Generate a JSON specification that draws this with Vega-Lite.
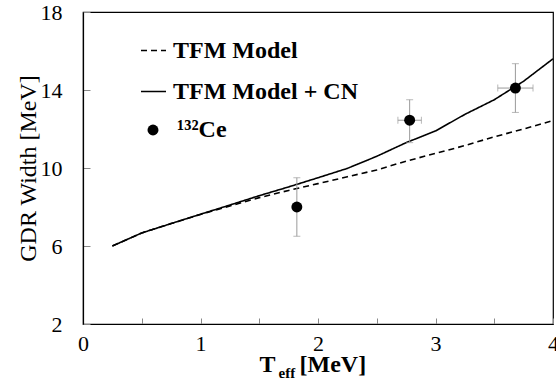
{
  "$schema": "https://vega.github.io/schema/vega-lite/v6.json",
  "width": 470,
  "height": 312,
  "autosize": "none",
  "padding": {"left": 83, "top": 12, "right": 3, "bottom": 62},
  "background": "white",
  "config": {
    "font": "Liberation Serif",
    "view": {"stroke": "black", "strokeWidth": 1.2},
    "axis": {"grid": false, "domainColor": "black", "domainWidth": 1.2, "tickColor": "#888888", "labelColor": "black", "titleColor": "black", "labelFont": "Liberation Serif", "titleFont": "Liberation Serif"},
    "legend": {"labelFont": "Liberation Serif", "labelColor": "black"}
  },
  "datasets": {
    "models": [
      {"T": 0.25, "W": 6.0, "model": "TFM Model"},
      {"T": 0.5, "W": 6.67, "model": "TFM Model"},
      {"T": 0.75, "W": 7.15, "model": "TFM Model"},
      {"T": 1.0, "W": 7.62, "model": "TFM Model"},
      {"T": 1.25, "W": 8.05, "model": "TFM Model"},
      {"T": 1.5, "W": 8.48, "model": "TFM Model"},
      {"T": 1.75, "W": 8.85, "model": "TFM Model"},
      {"T": 2.0, "W": 9.2, "model": "TFM Model"},
      {"T": 2.25, "W": 9.55, "model": "TFM Model"},
      {"T": 2.5, "W": 9.9, "model": "TFM Model"},
      {"T": 2.75, "W": 10.35, "model": "TFM Model"},
      {"T": 3.0, "W": 10.75, "model": "TFM Model"},
      {"T": 3.25, "W": 11.15, "model": "TFM Model"},
      {"T": 3.5, "W": 11.6, "model": "TFM Model"},
      {"T": 3.75, "W": 12.0, "model": "TFM Model"},
      {"T": 4.0, "W": 12.43, "model": "TFM Model"},
      {"T": 0.25, "W": 6.0, "model": "TFM Model + CN"},
      {"T": 0.5, "W": 6.67, "model": "TFM Model + CN"},
      {"T": 0.75, "W": 7.15, "model": "TFM Model + CN"},
      {"T": 1.0, "W": 7.63, "model": "TFM Model + CN"},
      {"T": 1.25, "W": 8.1, "model": "TFM Model + CN"},
      {"T": 1.5, "W": 8.58, "model": "TFM Model + CN"},
      {"T": 1.75, "W": 9.03, "model": "TFM Model + CN"},
      {"T": 2.0, "W": 9.5, "model": "TFM Model + CN"},
      {"T": 2.25, "W": 9.98, "model": "TFM Model + CN"},
      {"T": 2.5, "W": 10.6, "model": "TFM Model + CN"},
      {"T": 2.75, "W": 11.3, "model": "TFM Model + CN"},
      {"T": 3.0, "W": 11.9, "model": "TFM Model + CN"},
      {"T": 3.25, "W": 12.75, "model": "TFM Model + CN"},
      {"T": 3.5, "W": 13.5, "model": "TFM Model + CN"},
      {"T": 3.75, "W": 14.45, "model": "TFM Model + CN"},
      {"T": 4.0, "W": 15.6, "model": "TFM Model + CN"}
    ],
    "ce": [
      {"T": 1.82, "W": 8.0, "Wlo": 6.5, "Whi": 9.5, "Tlo": null, "Thi": null, "label": "¹³²Ce"},
      {"T": 2.78, "W": 12.45, "Wlo": 11.3, "Whi": 13.5, "Tlo": 2.68, "Thi": 2.88, "label": "¹³²Ce"},
      {"T": 3.68, "W": 14.1, "Wlo": 12.85, "Whi": 15.35, "Tlo": 3.53, "Thi": 3.83, "label": "¹³²Ce"}
    ]
  },
  "resolve": {"axis": {"x": "independent"}},
  "layer": [
    {
      "data": {"name": "models"},
      "mark": {"type": "line", "color": "black", "strokeWidth": 1.6},
      "encoding": {
        "x": {
          "field": "T", "type": "quantitative",
          "scale": {"domain": [0, 4], "nice": false},
          "axis": {
            "values": [0, 0.5, 1, 1.5, 2, 2.5, 3, 3.5, 4],
            "labelExpr": "datum.value % 1 == 0 ? format(datum.value, 'd') : ''",
            "labelOverlap": false, "labelFlush": false,
            "tickSize": -6, "labelPadding": 15, "labelFontSize": 22,
            "title": "T\u00a0\u00a0\u00a0\u00a0[MeV]", "titleFontSize": 24, "titleFontWeight": "bold",
            "titleAlign": "left", "titleAnchor": "start", "titleX": 176, "titleY": 47, "titleBaseline": "alphabetic"
          }
        },
        "y": {
          "field": "W", "type": "quantitative", "title": "GDR Width [MeV]",
          "scale": {"domain": [2, 18], "nice": false},
          "axis": {
            "values": [2, 3, 4, 5, 6, 7, 8, 9, 10, 11, 12, 13, 14, 15, 16, 17, 18],
            "labelExpr": "(datum.value - 2) % 4 == 0 ? datum.label : ''",
            "labelOverlap": false, "labelFlush": false,
            "tickSize": -7, "labelPadding": 28, "labelFontSize": 22,
            "titleFontSize": 24, "titleFontWeight": "normal",
            "titleAngle": 270, "titleAlign": "center", "titleBaseline": "alphabetic", "titleX": -48, "titleY": 156
          }
        },
        "strokeDash": {
          "field": "model", "type": "nominal",
          "scale": {"domain": ["TFM Model", "TFM Model + CN"], "range": [[6, 4], [1, 0]]},
          "legend": {
            "orient": "none", "legendX": 57, "legendY": 25, "title": null,
            "padding": 0, "rowPadding": 15, "symbolType": "stroke", "symbolSize": 625,
            "symbolStrokeColor": "black", "symbolStrokeWidth": 1.5,
            "labelFontSize": 24, "labelFontWeight": "bold", "labelOffset": 6, "labelLimit": 400
          }
        }
      }
    },
    {
      "data": {"name": "ce"},
      "mark": {"type": "errorbar", "ticks": {"size": 7, "color": "#9a9a9a", "strokeWidth": 1}, "rule": {"color": "#9a9a9a", "strokeWidth": 1}},
      "encoding": {
        "x": {"field": "T", "type": "quantitative", "axis": null},
        "y": {"field": "Wlo", "type": "quantitative", "title": "GDR Width [MeV]"},
        "y2": {"field": "Whi"}
      }
    },
    {
      "data": {"name": "ce"},
      "transform": [{"filter": "datum.Tlo != null"}],
      "mark": {"type": "errorbar", "ticks": {"size": 7, "color": "#9a9a9a", "strokeWidth": 1}, "rule": {"color": "#9a9a9a", "strokeWidth": 1}},
      "encoding": {
        "x": {
          "field": "Tlo", "type": "quantitative",
          "axis": {
            "orient": "bottom", "domain": false, "ticks": false, "labels": false,
            "title": "eff", "titleFontSize": 15, "titleFontWeight": "bold",
            "titleAlign": "left", "titleAnchor": "start", "titleX": 195, "titleY": 53, "titleBaseline": "alphabetic"
          }
        },
        "x2": {"field": "Thi"},
        "y": {"field": "W", "type": "quantitative", "title": "GDR Width [MeV]"}
      }
    },
    {
      "data": {"name": "ce"},
      "mark": {"type": "point", "filled": true, "color": "black", "opacity": 1, "size": 120},
      "encoding": {
        "x": {"field": "T", "type": "quantitative", "axis": null},
        "y": {"field": "W", "type": "quantitative", "title": "GDR Width [MeV]"},
        "shape": {
          "field": "label", "type": "nominal",
          "scale": {"domain": ["¹³²Ce"], "range": ["circle"]},
          "legend": {
            "orient": "none", "legendX": 58, "legendY": 106, "title": null,
            "padding": 0, "symbolSize": 120, "symbolFillColor": "black", "symbolStrokeColor": "black", "symbolStrokeWidth": 0,
            "symbolOpacity": 1,
            "labelFontSize": 24, "labelFontWeight": "bold", "labelOffset": 12
          }
        }
      }
    }
  ]
}
